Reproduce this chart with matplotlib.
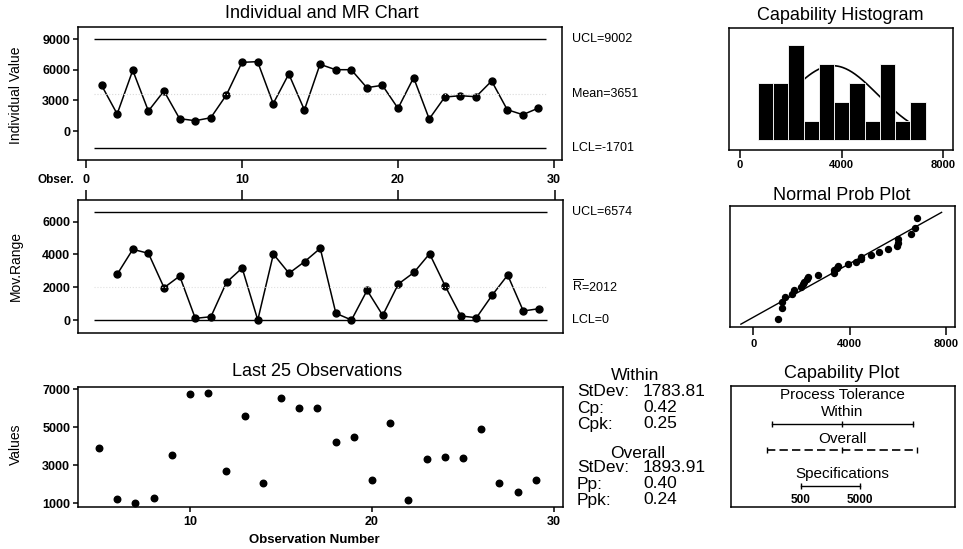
import matplotlib.pyplot as plt
import numpy as np
from statistics import NormalDist

plt.rcParams['font.family'] = ['Liberation Sans', 'DejaVu Sans']
plt.rcParams['mathtext.fontset'] = 'custom'
plt.rcParams['mathtext.rm'] = 'Liberation Sans'

# individual values, observations 1..29
obs = list(range(1, 30))
values = [4480, 1670, 5950, 1960, 3920, 1210, 1010, 1300, 3530, 6730,
          6800, 2680, 5590, 2060, 6540, 6010, 6010, 4250, 4480, 2220,
          5230, 1180, 3330, 3460, 3360, 4900, 2090, 1600, 2250]

# moving ranges, observations 2..29
mr_obs = list(range(2, 30))
mr_values = [2790, 4310, 4065, 1970, 2680, 100, 200, 2300, 3170, 0,
             4020, 2850, 3560, 4370, 410, 0, 1810, 285, 2195, 2900,
             4040, 2070, 245, 140, 1505, 2740, 550, 690]

i_ucl, i_mean, i_lcl = 9002, 3651, -1701
mr_ucl, mr_bar, mr_lcl = 6574, 2012, 0

# capability histogram
hist_mids = [1000, 1600, 2200, 2800, 3400, 4000, 4600, 5200, 5800, 6400, 7000]
hist_counts = [3, 3, 5, 1, 4, 2, 3, 1, 4, 1, 2]
hist_width = 600

sd_within = 1783.81
sd_overall = 1893.91

# capability plot
within_tol = [-1701, 3651, 9002]
overall_tol = [-2031, 3651, 9333]
spec_limits = [500, 5000]

within_rows = [("StDev:", "1783.81"), ("Cp:", "0.42"), ("Cpk:", "0.25")]
overall_rows = [("StDev:", "1893.91"), ("Pp:", "0.40"), ("Ppk:", "0.24")]

W, H = 963, 549
fig = plt.figure(figsize=(W / 100, H / 100), dpi=100)


def box(x0, y0, x1, y1):
    # axes placed by pixel corners (top-left origin)
    return fig.add_axes([x0 / W, 1 - y1 / H, (x1 - x0) / W, (y1 - y0) / H])


def ftext(x, y, s, **kw):
    kw.setdefault('ha', 'center')
    kw.setdefault('va', 'center')
    fig.text(x / W, 1 - y / H, s, **kw)


def style(ax):
    for sp in ax.spines.values():
        sp.set_linewidth(1.1)
    ax.tick_params(labelsize=9, width=1.1, colors='k')
    for lab in ax.get_xticklabels() + ax.get_yticklabels():
        lab.set_fontweight('bold')


# ---- Individual chart
ax1 = box(78, 27, 562, 160)
ax1.plot(obs, values, 'k-', marker='o', ms=5, lw=1.1)
ax1.hlines([i_ucl, i_lcl], 0.5, 29.5, colors='k', lw=1)
ax1.hlines(i_mean, 0.5, 29.5, colors='0.85', lw=0.8, linestyles=':')
ax1.set_xlim(-0.51, 30.51)
ax1.set_ylim(-2843, 10196)
ax1.set_yticks([0, 3000, 6000, 9000])
ax1.set_xticks([0, 10, 20, 30])
ax1.tick_params(axis='x', length=6, pad=4)
ax1.tick_params(axis='y', length=3.6, pad=2)
style(ax1)
tr = ax1.get_yaxis_transform()
for v, s in [(i_ucl, 'UCL=9002'), (i_mean, 'Mean=3651'), (i_lcl, 'LCL=-1701')]:
    ax1.text(1.02, v, s, transform=tr, va='center', fontsize=9)
ftext(322, 13, 'Individual and MR Chart', fontsize=13)
ftext(16, 95, 'Individual Value', rotation=90, fontsize=10)
ftext(56, 180, 'Obser.', fontsize=8.5, fontweight='bold')

# ---- Moving range chart
ax2 = box(78, 200, 562.5, 332.7)
ax2.plot(mr_obs, mr_values, 'k-', marker='o', ms=5, lw=1.1)
ax2.hlines([mr_ucl, mr_lcl], 0.5, 29.5, colors='k', lw=1)
ax2.hlines(mr_bar, 0.5, 29.5, colors='0.88', lw=0.8, linestyles=':')
ax2.set_xlim(-0.51, 30.51)
ax2.set_ylim(-774, 7317)
ax2.set_yticks([0, 2000, 4000, 6000])
ax2.set_xticks([0, 10, 20, 30])
ax2.tick_params(axis='x', bottom=False, top=True, labelbottom=False,
                labeltop=False, length=7)
ax2.tick_params(axis='y', length=3.6, pad=2)
style(ax2)
tr = ax2.get_yaxis_transform()
for v, s in [(mr_ucl, 'UCL=6574'), (mr_bar, r'$\overline{\mathrm{R}}$=2012'),
             (mr_lcl, 'LCL=0')]:
    ax2.text(1.02, v, s, transform=tr, va='center', fontsize=9)
ftext(16, 266, 'Mov.Range', rotation=90, fontsize=10)

# ---- Last 25 observations
ax3 = box(78, 386.7, 563, 506.7)
ax3.plot(obs[4:], values[4:], 'ko', ms=4.7, lw=0)
ax3.set_xlim(3.85, 30.5)
ax3.set_ylim(821, 7137)
ax3.set_yticks([1000, 3000, 5000, 7000])
ax3.set_xticks([10, 20, 30])
ax3.tick_params(axis='x', length=3.6, pad=3)
ax3.tick_params(axis='y', length=3.6, pad=2)
style(ax3)
ftext(317, 372, 'Last 25 Observations', fontsize=13)
ftext(16, 444, 'Values', rotation=90, fontsize=10)
ftext(314, 540, 'Observation Number', fontsize=9.5, fontweight='bold')

# stats text
ftext(635, 375, 'Within', fontsize=12.5)
for k, (a, b) in enumerate(within_rows):
    ftext(577, 392 + 16 * k, a, ha='left', fontsize=12.5)
    ftext(643, 392 + 16 * k, b, ha='left', fontsize=12.5)
ftext(638, 453, 'Overall', fontsize=12.5)
for k, (a, b) in enumerate(overall_rows):
    ftext(577, 468 + 16 * k, a, ha='left', fontsize=12.5)
    ftext(643, 468 + 16 * k, b, ha='left', fontsize=12.5)

# ---- Capability histogram
ax4 = box(729.3, 28.3, 953.3, 150)
ax4.bar(hist_mids, hist_counts, width=hist_width, color='k',
        edgecolor='white', lw=0.6, zorder=3)
xs = np.linspace(hist_mids[0], hist_mids[-1], 200)
nd = NormalDist(i_mean, sd_within)
ys = [sum(hist_counts) * hist_width * nd.pdf(x) for x in xs]
ax4.plot(xs, ys, 'k-', lw=1.2, zorder=2)
ax4.set_xlim(-421, 8393)
ax4.set_ylim(-0.52, 5.85)
ax4.set_yticks([])
ax4.set_xticks([0, 4000, 8000])
ax4.tick_params(axis='x', length=6, pad=1)
style(ax4)
ax4.tick_params(axis='x', labelsize=8)
ftext(840, 16, 'Capability Histogram', fontsize=13)

# ---- Normal probability plot
ax5 = box(730, 206, 955, 326.7)
srt = sorted(values)
n = len(srt)
zq = [NormalDist().inv_cdf((i + 1 - 0.3) / (n + 0.4)) for i in range(n)]
ax5.plot(srt, zq, 'ko', ms=4.3, lw=0)
zl = np.array([-2.2, 2.2])
ax5.plot(i_mean + sd_overall * zl, zl, 'k-', lw=1)
ax5.set_xlim(-968, 8374)
ax5.set_ylim(-2.30, 2.45)
ax5.set_yticks([])
ax5.set_xticks([0, 4000, 8000])
ax5.tick_params(axis='x', length=6, pad=3)
style(ax5)
ax5.tick_params(axis='x', labelsize=8)
ftext(842, 195, 'Normal Prob Plot', fontsize=13)

# ---- Capability plot
ax6 = box(730.7, 386, 955, 506.7)
ax6.set_xlim(-4804, 12189)
ax6.set_ylim(0, 1)
ax6.set_xticks([])
ax6.set_yticks([])
style(ax6)


def yf(py):
    return (506.7 - py) / 120.7


ax6.text(i_mean, yf(395), 'Process Tolerance', ha='center', va='center', fontsize=11)
ax6.text(i_mean, yf(411.5), 'Within', ha='center', va='center', fontsize=11)
ax6.plot([within_tol[0], within_tol[-1]], [yf(424.3)] * 2, 'k-', lw=1)
ax6.plot(within_tol, [yf(424.3)] * 3, 'k|', ms=5, mew=1)
ax6.text(i_mean, yf(439), 'Overall', ha='center', va='center', fontsize=11)
ax6.plot([overall_tol[0], overall_tol[-1]], [yf(450)] * 2, 'k-', lw=1.2,
         dashes=(5, 2.5))
ax6.plot(overall_tol, [yf(450)] * 3, 'k|', ms=5, mew=1)
ax6.text(i_mean, yf(474), 'Specifications', ha='center', va='center', fontsize=11)
ax6.plot(spec_limits, [yf(485.7)] * 2, 'k-', lw=1)
ax6.plot(spec_limits, [yf(485.7)] * 2, 'k|', ms=5, mew=1)
for v in spec_limits:
    ax6.text(v, yf(500), str(v), ha='center', va='center', fontsize=8.5,
             fontweight='bold')
ftext(842, 373, 'Capability Plot', fontsize=13)

fig.savefig('out.png', dpi=100)
